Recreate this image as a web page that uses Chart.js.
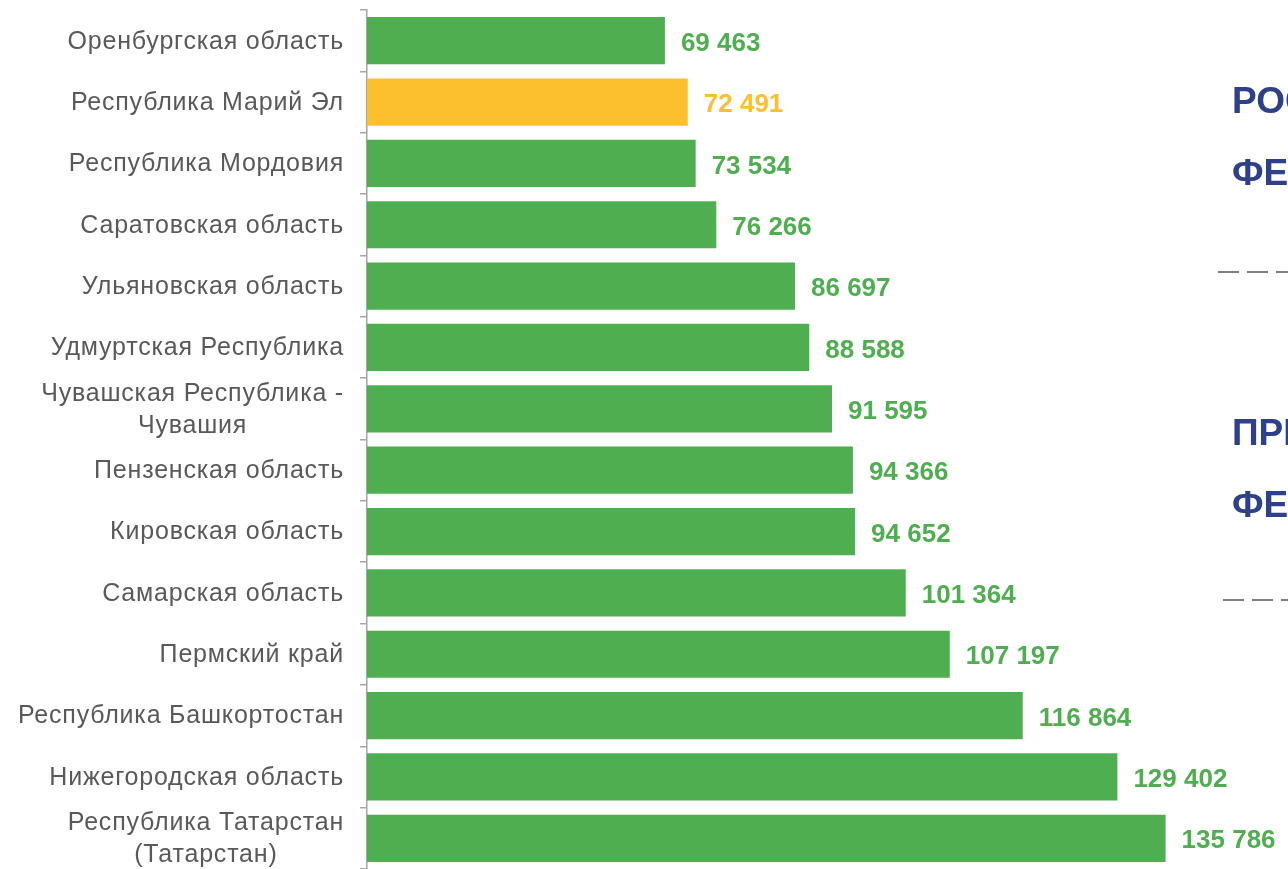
<!DOCTYPE html>
<html>
<head>
<meta charset="utf-8">
<script src="https://cdn.jsdelivr.net/npm/chart.js@4"></script>
<style>
  html, body { margin: 0; padding: 0; background: #fff; }
  #wrap { width: 1288px; height: 869px; position: relative; }
</style>
</head>
<body>
<div id="wrap"><canvas id="regionChart"></canvas></div>
<script>
// Regions (top to bottom) and their values
const regions = [
  'Оренбургская область',
  'Республика Марий Эл',
  'Республика Мордовия',
  'Саратовская область',
  'Ульяновская область',
  'Удмуртская Республика',
  ['Чувашская Республика -', 'Чувашия'],
  'Пензенская область',
  'Кировская область',
  'Самарская область',
  'Пермский край',
  'Республика Башкортостан',
  'Нижегородская область',
  ['Республика Татарстан', '(Татарстан)']
];
const values = [69463, 72491, 73534, 76266, 86697, 88588, 91595, 94366, 94652, 101364, 107197, 116864, 129402, 135786];
const highlightIndex = 1; // Марий Эл

const GREEN = '#4FAE50';
const YELLOW = '#FCC02E';
const FONT = '"Liberation Sans", Arial, sans-serif';

const barColors = values.map((v, i) => i === highlightIndex ? YELLOW : GREEN);

// Right-side captions (cut off by the slide edge)
const sideTexts = [
  { text: 'РОССИЙСКАЯ', x: 1232, y: 113 },
  { text: 'ФЕДЕРАЦИЯ', x: 1232, y: 185 },
  { text: 'ПРИВОЛЖСКИЙ', x: 1232, y: 445 },
  { text: 'ФЕДЕРАЛЬНЫЙ', x: 1232, y: 517 }
];
const sideDashes = [
  { x: 1218, y: 272 },
  { x: 1223, y: 600 }
];

// Category labels drawn by hand so two-line labels are centered
const labelPlugin = {
  id: 'labelPlugin',
  afterDraw(chart) {
    const ctx = chart.ctx;
    const yScale = chart.scales.y;
    ctx.save();
    ctx.font = '25px ' + FONT;
    ctx.letterSpacing = '0.8px';
    ctx.fillStyle = '#595959';
    ctx.textBaseline = 'middle';
    regions.forEach((lab, i) => {
      const y = yScale.getPixelForTick(i);
      const right = 344;
      if (Array.isArray(lab)) {
        const w = Math.max(...lab.map(l => ctx.measureText(l).width));
        const cx = right - w / 2;
        ctx.textAlign = 'center';
        const lh = 32;
        lab.forEach((l, k) => {
          ctx.fillText(l, cx, y + 1 + (k - (lab.length - 1) / 2) * lh);
        });
      } else {
        ctx.textAlign = 'right';
        ctx.fillText(lab, right, y + 1);
      }
    });
    ctx.restore();
  }
};

// Value labels right of each bar
const valuePlugin = {
  id: 'valuePlugin',
  afterDatasetsDraw(chart) {
    const ctx = chart.ctx;
    const meta = chart.getDatasetMeta(0);
    ctx.save();
    ctx.font = 'bold 26px ' + FONT;
    ctx.textAlign = 'left';
    ctx.textBaseline = 'middle';
    meta.data.forEach((bar, i) => {
      ctx.fillStyle = barColors[i];
      const txt = values[i].toLocaleString('ru-RU').replace(/\s/g, ' ');
      ctx.fillText(txt, bar.x + 16, bar.y + 3);
    });
    ctx.restore();
  }
};

// Captions and dashed rules on the right
const sidePlugin = {
  id: 'sidePlugin',
  afterDraw(chart) {
    const ctx = chart.ctx;
    ctx.save();
    ctx.font = 'bold 37px ' + FONT;
    ctx.fillStyle = '#2E4089';
    ctx.textAlign = 'left';
    ctx.textBaseline = 'alphabetic';
    sideTexts.forEach(t => ctx.fillText(t.text, t.x, t.y));
    ctx.strokeStyle = '#808080';
    ctx.lineWidth = 2;
    ctx.setLineDash([21, 8]);
    sideDashes.forEach(d => {
      ctx.beginPath();
      ctx.moveTo(d.x, d.y);
      ctx.lineTo(1300, d.y);
      ctx.stroke();
    });
    ctx.restore();
  }
};

new Chart(document.getElementById('regionChart'), {
  type: 'bar',
  data: {
    labels: regions,
    datasets: [{
      data: values,
      backgroundColor: barColors,
      borderWidth: 0,
      barPercentage: 0.77,
      categoryPercentage: 1
    }]
  },
  options: {
    indexAxis: 'y',
    responsive: true,
    maintainAspectRatio: false,
    animation: false,
    layout: { padding: { top: 10, left: 0, right: 0, bottom: 0 } },
    plugins: {
      legend: { display: false },
      tooltip: { enabled: false }
    },
    scales: {
      x: {
        display: false,
        min: 30000,
        max: 152000
      },
      y: {
        afterFit(scale) { scale.width = 367; },
        ticks: { display: false },
        grid: {
          display: true,
          drawOnChartArea: false,
          drawTicks: true,
          tickLength: 7,
          color: '#A6A6A6',
          lineWidth: 1.5
        },
        border: { display: true, color: '#A6A6A6', width: 1.5 }
      }
    }
  },
  plugins: [labelPlugin, valuePlugin, sidePlugin]
});
</script>
</body>
</html>
